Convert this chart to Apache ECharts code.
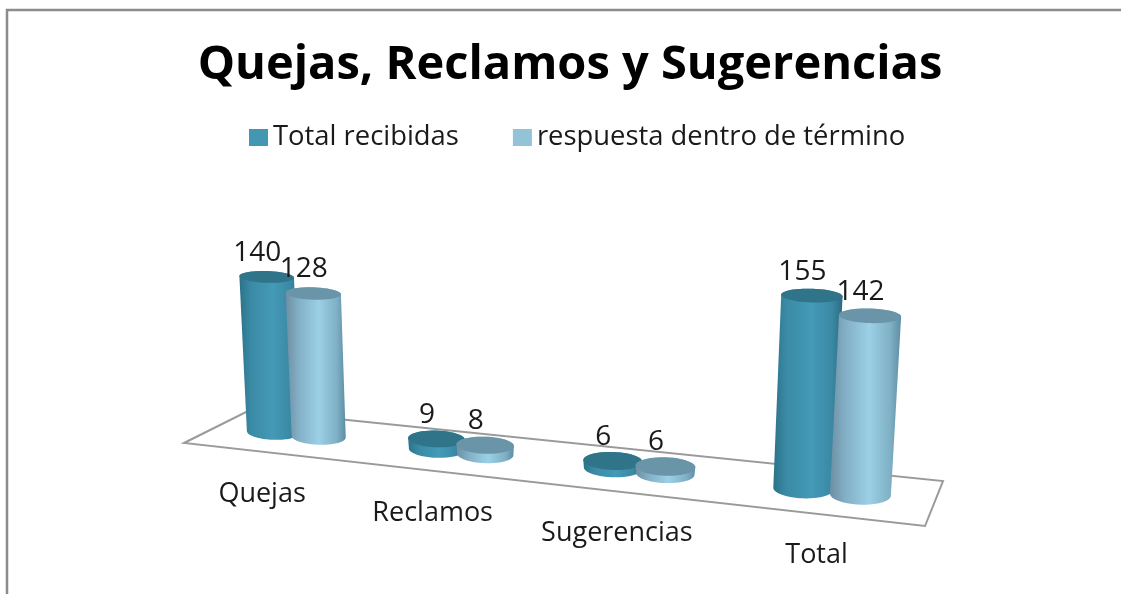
<!DOCTYPE html>
<html><head><meta charset="utf-8">
<style>html,body{margin:0;padding:0;background:#fff}#c{width:1121px;height:594px}</style>
<script src="https://cdn.jsdelivr.net/npm/echarts@6/dist/echarts.min.js"></script>
</head><body><div id="c"></div>
<script>
const categories = ['Quejas', 'Reclamos', 'Sugerencias', 'Total'];
const totalRecibidas = [140, 9, 6, 155];
const respuestaTermino = [128, 8, 6, 142];
const seriesNames = ['Total recibidas', 'respuesta dentro de término'];

// Perspective floor (screen corners: back-left, back-right, front-right, front-left)
const FLOOR = [[250, 410], [943, 481], [925, 526], [184, 443]];
const FONT = '"Open Sans"';
const [p0, p1, p2, p3] = FLOOR;
const dx1 = p1[0] - p2[0], dy1 = p1[1] - p2[1], dx2 = p3[0] - p2[0], dy2 = p3[1] - p2[1];
const sx = p0[0] - p1[0] + p2[0] - p3[0], sy = p0[1] - p1[1] + p2[1] - p3[1];
const den = dx1 * dy2 - dx2 * dy1;
const G = (sx * dy2 - dx2 * sy) / den, H = (dx1 * sy - sx * dy1) / den;
const A = p1[0] - p0[0] + G * p1[0], B = p3[0] - p0[0] + H * p3[0];
const D = p1[1] - p0[1] + G * p1[1], E = p3[1] - p0[1] + H * p3[1];
function project(u, v) {
  const w = G * u + H * v + 1;
  return { x: (A * u + B * v + p0[0]) / w, y: (D * u + E * v + p0[1]) / w, w };
}
const GRID = { left: 0, top: 100, width: 1000, height: 211 };
const toU = px => (px - GRID.left) / GRID.width;
const flatness = y => 0.22 + (y - 277) * 0.0005;
const TILT = 0.03;

function ellipsePts(cx, cy, rx, ry, from, to) {
  const pts = [], n = 48;
  for (let i = 0; i <= n; i++) {
    const t = from + (to - from) * i / n;
    const dx = rx * Math.cos(t);
    pts.push([cx + dx, cy + ry * Math.sin(t) + dx * TILT]);
  }
  return pts;
}
function bodyFill(stops) {
  return { type: 'linear', x: 0, y: 0, x2: 1, y2: 0,
    colorStops: stops.map(s => ({ offset: s[0], color: s[1] })) };
}
const STYLES = [
  { offset: -0.142, top: '#2f7489',
    body: [[0, '#2c7289'], [0.18, '#3a8aa5'], [0.55, '#449ab7'], [0.85, '#3a88a3'], [1, '#2c6c82']] },
  { offset: 0.142, top: '#6a95a8',
    body: [[0, '#6d8fa3'], [0.22, '#83b0c6'], [0.55, '#9bd0e6'], [0.85, '#7fb0c5'], [1, '#5c8da3']] }
];
function cylinder(si) {
  return function (params, api) {
    const idx = api.value(0), val = api.value(1);
    const centre = api.coord([idx, 0]);
    const band = api.size([1, 0])[0];
    const u = toU(centre[0] + band * STYLES[si].offset);
    const b = project(u, 0.5);
    const h = api.size([0, val])[1] / b.w;
    const rx = 25.5 / b.w;
    const tx = b.x + h * (b.x - 541) * 0.000168;
    const ty = b.y - h;
    const ryB = rx * flatness(b.y), ryT = rx * flatness(ty);
    const rxT = rx * 1.02;
    const body = ellipsePts(b.x, b.y, rx, ryB, 0, Math.PI)
      .concat(ellipsePts(tx, ty, rxT, ryT, Math.PI, 2 * Math.PI));
    return { type: 'group', children: [
      { type: 'polygon', shape: { points: body }, style: { fill: bodyFill(STYLES[si].body) } },
      { type: 'polygon', shape: { points: ellipsePts(tx, ty, rxT, ryT, 0, 2 * Math.PI) }, style: { fill: STYLES[si].top } },
      { type: 'text', x: tx - 9.5, y: ty - 24, z2: 50,
        style: { text: String(val), font: '28px ' + FONT, fill: '#1a1a1a', align: 'center', verticalAlign: 'middle' } }
    ] };
  };
}
function floorItem() {
  const pts = [[0, 0], [1, 0], [1, 1], [0, 1]].map(c => { const p = project(c[0], c[1]); return [p.x, p.y]; });
  return { type: 'polygon', shape: { points: pts }, style: { fill: '#fff', stroke: '#9a9a9a', lineWidth: 2 } };
}
function categoryLabel(params, api) {
  const idx = api.value(0);
  const b = project(toU(api.coord([idx, 0])[0]), 0.5);
  return { type: 'text', x: b.x - 34 + (b.x - 295) * 0.035, y: b.y + 60 + (b.x - 295) * 0.007,
    style: { text: categories[idx], font: '27px ' + FONT, fill: '#1a1a1a', align: 'center', verticalAlign: 'middle' } };
}
const option = {
  animation: false,
  backgroundColor: '#fff',
  title: { text: 'Quejas, Reclamos y Sugerencias', left: 565, top: 37, textAlign: 'center',
    textStyle: { fontFamily: 'Open Sans', fontWeight: 'bold', fontSize: 47, color: '#000' } },
  legend: { data: seriesNames, left: 244, top: 119, itemWidth: 19, itemHeight: 17, itemGap: 54, icon: 'rect',
    textStyle: { fontFamily: 'Open Sans', fontSize: 27.4, color: '#1a1a1a' } },
  grid: GRID,
  xAxis: { type: 'category', data: categories, show: false },
  yAxis: { type: 'value', min: 0, max: 200, show: false },
  graphic: [{ type: 'polyline', silent: true, shape: { points: [[7, 594], [7, 10], [1121, 10]] },
    style: { fill: 'none', stroke: '#8c8c8c', lineWidth: 2.5 } }],
  series: [
    { type: 'custom', name: 'floor', silent: true, z: 1, data: [[0]], renderItem: floorItem },
    { type: 'custom', name: 'cats', silent: true, z: 1, data: categories.map((c, i) => [i]), renderItem: categoryLabel },
    { type: 'custom', name: seriesNames[0], z: 2, itemStyle: { color: '#4397b2' }, data: totalRecibidas.map((v, i) => [i, v]), renderItem: cylinder(0) },
    { type: 'custom', name: seriesNames[1], z: 3, itemStyle: { color: '#92c3d6' }, data: respuestaTermino.map((v, i) => [i, v]), renderItem: cylinder(1) }
  ]
};
echarts.init(document.getElementById('c')).setOption(option);
</script></body></html>
